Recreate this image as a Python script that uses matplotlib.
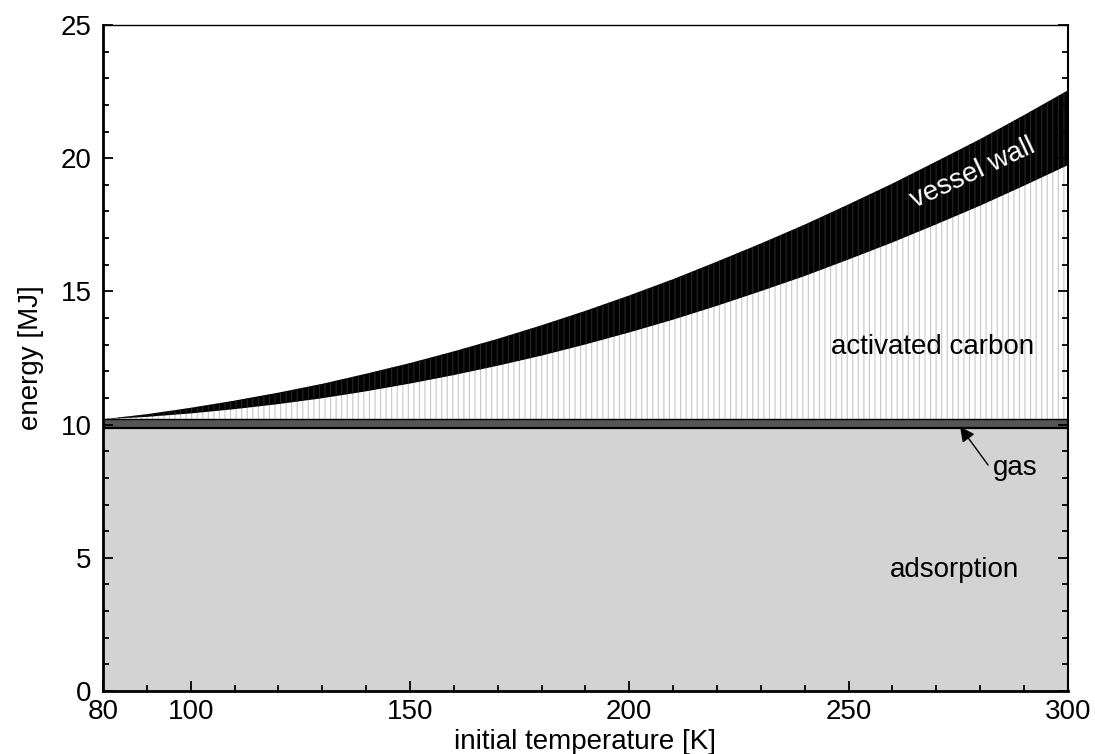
"""Energy stack vs initial temperature: adsorption, gas, activated carbon, vessel wall."""
import matplotlib

matplotlib.use("Agg")
import matplotlib.pyplot as plt
import numpy as np
from matplotlib.ticker import FixedLocator, MultipleLocator

plt.rcParams["font.family"] = ["Liberation Sans", "DejaVu Sans"]
plt.rcParams["hatch.linewidth"] = 0.8

# initial temperature [K]
temperature = [80, 90, 100, 110, 120, 130, 140, 150, 160, 170, 180, 190,
               200, 210, 220, 230, 240, 250, 260, 270, 280, 290, 300]
# energy contributions [MJ]
adsorption = [9.86] * len(temperature)
gas = [0.34] * len(temperature)
carbon = [0.00, 0.09, 0.22, 0.38, 0.57, 0.79, 1.05, 1.34, 1.66, 2.01, 2.39, 2.81,
          3.26, 3.74, 4.26, 4.81, 5.38, 6.00, 6.64, 7.32, 8.02, 8.77, 9.54]
wall = [0.00, 0.10, 0.21, 0.32, 0.43, 0.54, 0.66, 0.77, 0.89, 1.01, 1.14, 1.26,
        1.39, 1.52, 1.66, 1.79, 1.93, 2.07, 2.21, 2.36, 2.50, 2.65, 2.81]

x_major = [80, 100, 150, 200, 250, 300]

T = np.array(temperature)
lvl1 = np.array(adsorption)
lvl2 = lvl1 + np.array(gas)
lvl3 = lvl2 + np.array(carbon)
lvl4 = lvl3 + np.array(wall)

fig = plt.figure(figsize=(10.95, 7.54), dpi=100)
ax = fig.add_axes([0.094, 0.0836, 0.8813, 0.8832])

ax.fill_between(T, 0, lvl1, color="#d3d3d3", lw=0)
ax.fill_between(T, lvl1, lvl2, color="#555555", lw=0)
ax.fill_between(T, lvl2, lvl3, facecolor="white", edgecolor="#c8c8c8",
                hatch="|||", lw=0)
ax.fill_between(T, lvl3, lvl4, facecolor="black", edgecolor="#262626",
                hatch="|||", lw=0)
ax.plot(T, lvl1, color="black", lw=1.6)
ax.plot(T, lvl2, color="black", lw=1.0)

ax.set_xlim(80, 300)
ax.set_ylim(0, 25)

ax.text(278.3, 19.44, "vessel wall", color="white", fontsize=20,
        rotation=25, ha="center", va="center")
ax.text(269.2, 12.91, "activated carbon", fontsize=20, ha="center", va="center")
ax.text(274.2, 4.54, "adsorption", fontsize=20, ha="center", va="center")
ax.text(282.9, 8.37, "gas", fontsize=20, ha="left", va="center")
ax.annotate("", xy=(275.4, 9.92), xytext=(281.8, 8.48),
            arrowprops=dict(arrowstyle="-|>", color="black", lw=1,
                            mutation_scale=22, shrinkA=0, shrinkB=0))

ax.xaxis.set_major_locator(FixedLocator(x_major))
ax.xaxis.set_minor_locator(MultipleLocator(10))
ax.yaxis.set_major_locator(MultipleLocator(5))
ax.yaxis.set_minor_locator(MultipleLocator(1))
ax.tick_params(which="both", direction="in", top=False, right=True, width=1.3)
ax.tick_params(which="major", length=7.2, labelsize=20)
ax.tick_params(which="minor", length=4.3)
ax.tick_params(axis="x", pad=6)
ax.tick_params(axis="y", pad=8)

ax.spines["left"].set_linewidth(2.0)
ax.spines["bottom"].set_linewidth(2.0)
ax.spines["right"].set_linewidth(1.5)
ax.spines["top"].set_linewidth(1.0)

ax.set_xlabel("initial temperature [K]", fontsize=20, labelpad=3)
ax.set_ylabel("energy [MJ]", fontsize=20, labelpad=12)

fig.savefig("out.png", dpi=100)
